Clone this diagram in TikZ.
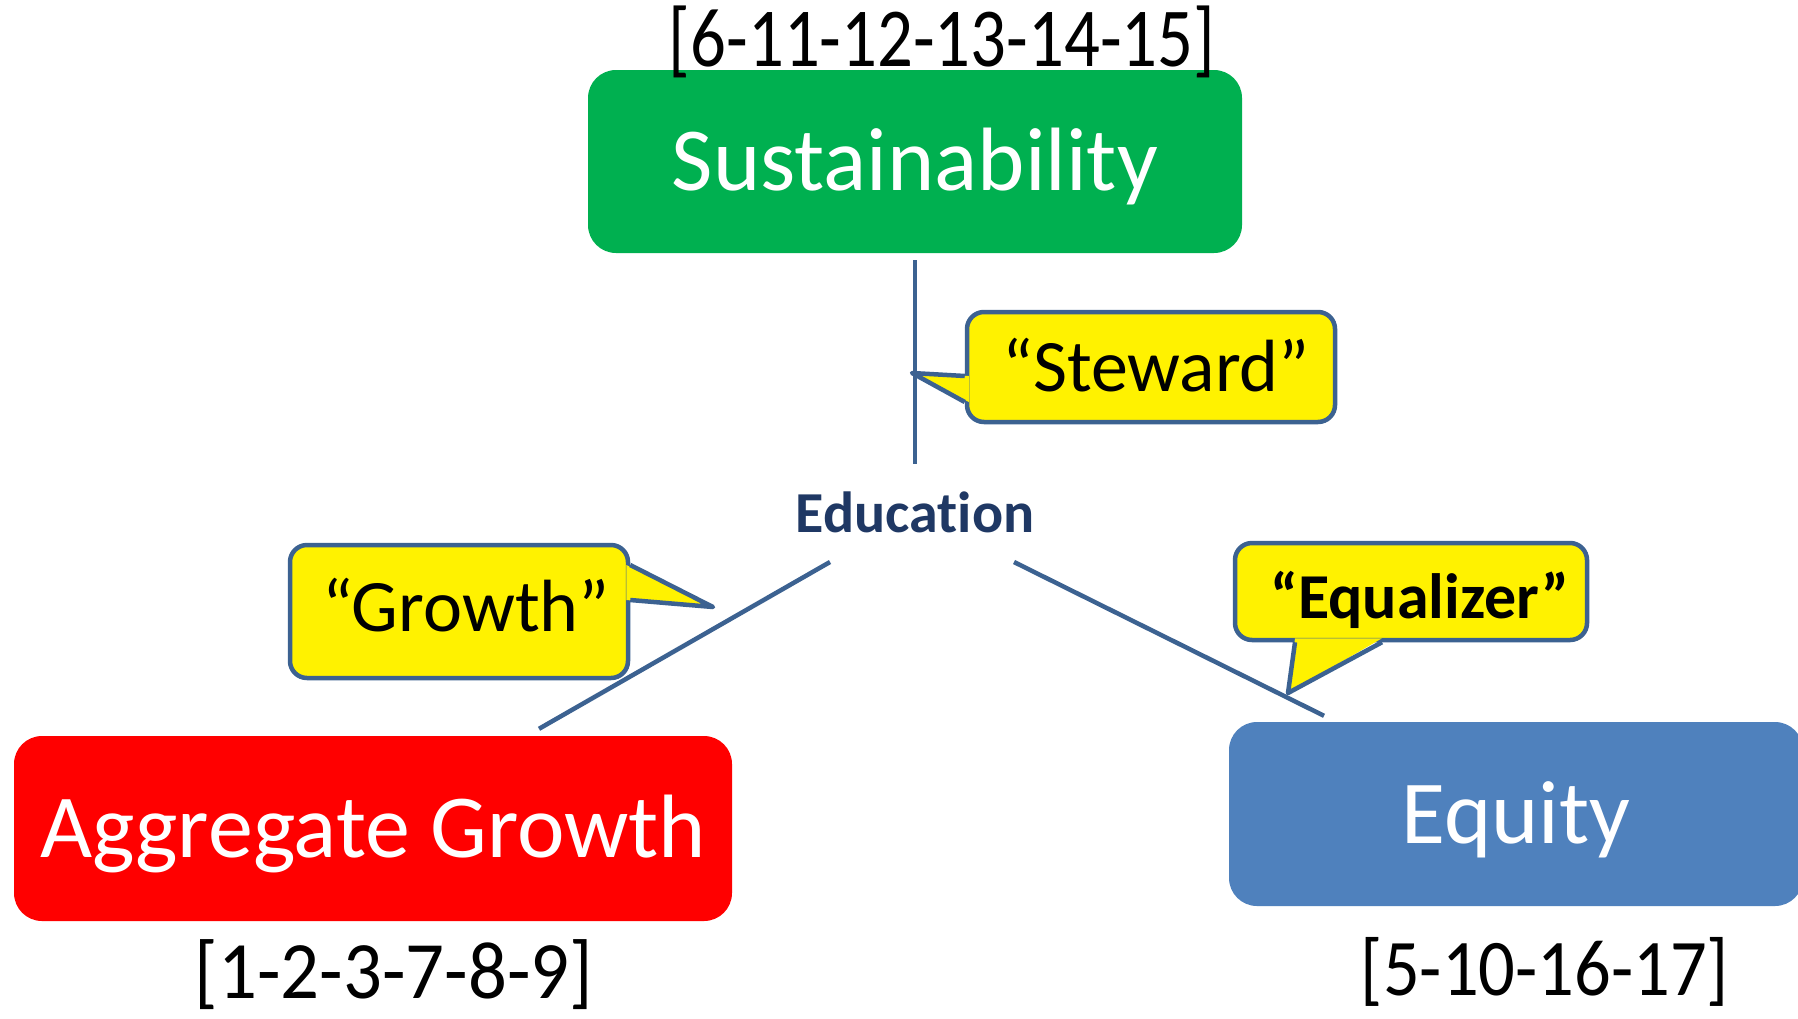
\documentclass[tikz,border=0pt]{standalone}
\usepackage{fontspec}
\setmainfont{Carlito}[Ligatures=NoCommon]
\usetikzlibrary{calc}
\definecolor{lnblue}{RGB}{60,98,145}
\definecolor{susgreen}{RGB}{0,176,80}
\definecolor{eqblue}{RGB}{79,129,189}
\definecolor{edunavy}{RGB}{31,56,100}
\begin{document}
\begin{tikzpicture}[x=1pt,y=-1pt,
  mainbox/.style={rectangle, rounded corners=28pt, inner sep=0pt, text=white,
    font=\fontsize{90}{100}\selectfont, text height=58pt, text depth=0pt},
  callbox/.style={rectangle, rounded corners=17pt, fill=yellow, draw=lnblue,
    line width=4.5pt, inner sep=0pt, text=black,
    font=\fontsize{74}{80}\selectfont, text height=48pt, text depth=0pt},
  conn/.style={draw=lnblue, line width=4.5pt},
  ptr/.style={draw=lnblue, line width=4.5pt, line join=round},
  reflabel/.style={inner sep=0pt, text=black}
]
\fill[white] (0,0) rectangle (1798,1018);
\useasboundingbox (0,0) rectangle (1798,1018);

% main boxes
\node[mainbox, fill=susgreen, minimum width=654pt, minimum height=183pt] (sus) at (915,161.5) {Sustainability};
\node[mainbox, fill=red, minimum width=718pt, minimum height=185pt] (agg) at (373,828.5) {Aggregate Growth};
\node[mainbox, fill=eqblue, minimum width=574pt, minimum height=184pt] (eq) at (1516,814) {Equity};

% centre
\node[inner sep=0pt, text=edunavy, font=\bfseries\fontsize{58}{62}\selectfont, text height=40pt, text depth=0pt] (edu) at (915,512) {Education};

% reference labels
\node[reflabel] (reftop) at (942,42) {\resizebox*{546pt}{72pt}{[6-11-12-13-14-15]}};
\node[reflabel] (refagg) at (394,975) {\resizebox*{398pt}{70pt}{[1-2-3-7-8-9]}};
\node[reflabel] (refeq) at (1545,972) {\resizebox*{368pt}{69pt}{[5-10-16-17]}};

% connectors
\draw[conn] ($(sus.south)+(0,7)$) -- ($(edu.center)+(0,-48)$);
\draw[conn] ($(edu.center)+(-85,50)$) -- ($(agg.north)+(166,-7)$);
\draw[conn] ($(edu.center)+(99,50)$) -- ($(eq.north)+(-192,-6)$);

% callouts
\node[callbox, minimum width=368pt, minimum height=110pt] (stw) at (1151,367) {\hspace*{10pt}“Steward”};
\coordinate (stwtip) at (912,373);
\fill[yellow] ($(stw.west)+(4,9)$) -- (stwtip) -- ($(stw.west)+(4,35)$) -- cycle;
\draw[ptr] ($(stw.west)+(0,9)$) -- (stwtip) -- ($(stw.west)+(0,35)$);

\node[callbox, minimum width=338pt, minimum height=133pt] (grw) at (459,611.5) {\hspace*{14pt}\raisebox{4pt}{“Growth”}};
\coordinate (grwtip) at (713,607);
\fill[yellow] ($(grw.east)+(-4,-46.5)$) -- (grwtip) -- ($(grw.east)+(-4,-11.5)$) -- cycle;
\draw[ptr] ($(grw.east)+(0,-46.5)$) -- (grwtip) -- ($(grw.east)+(0,-11.5)$);

\node[callbox, minimum width=352pt, minimum height=97pt, font=\bfseries\fontsize{64}{70}\selectfont, text height=41pt] (eqz) at (1411,591.5) {\hspace*{18pt}\raisebox{-6pt}{“Equalizer”}};
\coordinate (eqztip) at (1288,693);
\fill[yellow] ($(eqz.south)+(-116,-4)$) -- (eqztip) -- ($(eqz.south)+(-29,-4)$) -- cycle;
\draw[ptr] ($(eqz.south)+(-116,0)$) -- (eqztip) -- ($(eqz.south)+(-29,0)$);
\end{tikzpicture}
\end{document}
